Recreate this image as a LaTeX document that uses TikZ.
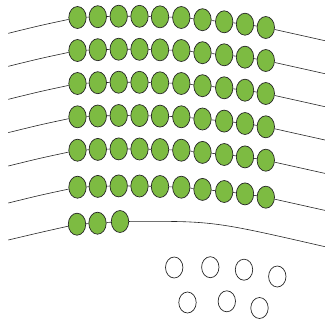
\documentclass[tikz,border=0pt]{standalone}
\usetikzlibrary{shapes.geometric}
\definecolor{beadgreen}{RGB}{125,187,66}
\begin{document}
\begin{tikzpicture}[x=1pt,y=-1pt,
 bead/.style={ellipse,draw=black!85,fill=beadgreen,line width=0.7pt,minimum width=17.4pt,minimum height=22pt,inner sep=0pt},
 ring/.style={ellipse,draw=black!85,line width=0.7pt,minimum width=17.4pt,minimum height=21pt,inner sep=0pt},
 strand/.style={draw=black!85,line width=0.6pt}]
\path[use as bounding box] (0,0) rectangle (325,322);
\foreach \r/\d in {1/0,2/33,3/66,4/99.3,5/132.7,6/169.7}{
  \foreach \i/\x/\y in {1/77.5/17.5,2/97.8/16.7,3/118.7/16.2,4/139.5/16.3,5/160/16.8,6/181.3/17.5,7/202.5/19.7,8/224.2/21.8,9/245/24.2,10/265.8/27.5}{
    \node[bead] (b\r-\i) at (\x,\y+\d) {};
  }
  \coordinate (l\r) at (8.3,33.3+\d);
  \coordinate (e\r) at (325,40.7+\d);
  \draw[strand] (l\r) .. controls (40,25.5+\d) .. (b\r-1);
  \foreach \i [count=\j from 2] in {1,...,9} \draw[strand] (b\r-\i) -- (b\r-\j);
  \draw[strand] (b\r-10) -- (e\r);
}
\node[bead] (b7-1) at (77,224.2) {};
\node[bead] (b7-2) at (97.5,223.2) {};
\node[bead] (b7-3) at (120,221.5) {};
\coordinate (l7) at (8.3,240);
\coordinate (e7) at (325,246.7);
\draw[strand] (l7) .. controls (40,232.5) .. (b7-1);
\draw[strand] (b7-1) -- (b7-2);
\draw[strand] (b7-2) -- (b7-3);
\draw[strand] (b7-3) .. controls (213,221) .. (e7);
\node[ring] (o1) at (174.2,267.5) {};
\node[ring] (o2) at (210.3,267.2) {};
\node[ring] (o3) at (244,269.7) {};
\node[ring] (o4) at (277.3,276.5) {};
\node[ring] (o5) at (187.5,302.5) {};
\node[ring] (o6) at (226.8,301.3) {};
\node[ring] (o7) at (259.5,308) {};
\end{tikzpicture}
\end{document}
